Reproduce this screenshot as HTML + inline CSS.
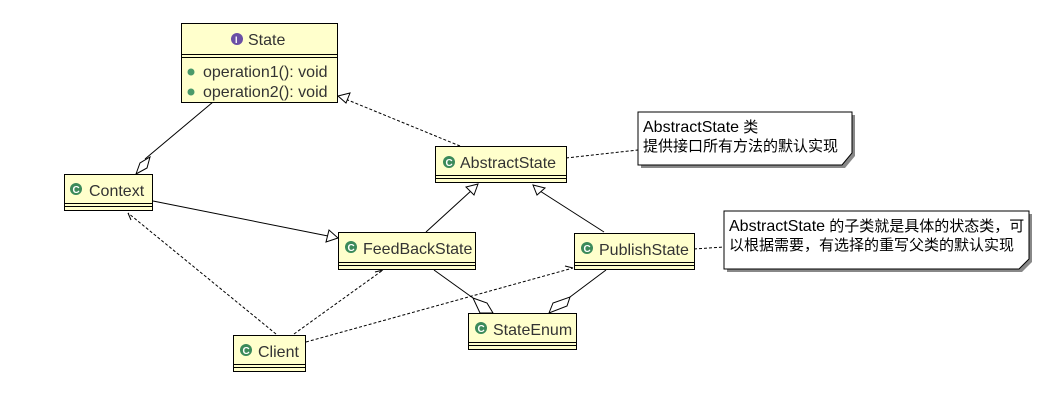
<!DOCTYPE html>
<html><head><meta charset="utf-8"><style>
body{margin:0;background:#fff;width:1039px;height:411px;overflow:hidden}
svg text{font-family:"Liberation Sans","Noto Sans CJK SC",sans-serif;font-size:16px;fill:#333}
svg text.n{font-size:15px;fill:#000}
svg text.n tspan.l{font-size:16px}
</style></head><body>
<svg width="1039" height="411" xmlns="http://www.w3.org/2000/svg">
<defs>
<g id="c"><circle r="6" fill="#3b8a5a"/><text x="-3.5" y="4" style="font-size:10px;font-weight:bold;fill:#fff">C</text></g>
</defs>
<g stroke="#000" fill="none" stroke-width="1">
<line x1="213" y1="102" x2="145" y2="159"/>
<polygon points="136,174 140,163 150,157 147,168" fill="#fff"/>
<line x1="460" y1="146" x2="338" y2="96" stroke-dasharray="3,2"/>
<polygon points="338,96 350,93 346,103" fill="#fff"/>
<line x1="153" y1="201" x2="328" y2="236"/>
<polygon points="338,238 326,242 329,230" fill="#fff"/>
<line x1="426" y1="232" x2="472" y2="190"/>
<polygon points="478,184 474,195 466,187" fill="#fff"/>
<line x1="604" y1="232" x2="540" y2="191"/>
<polygon points="533,185 545,188 537,195" fill="#fff"/>
<line x1="434" y1="270" x2="473" y2="298"/>
<polygon points="493,313 480,313 473,298 487,303" fill="#fff"/>
<line x1="606" y1="270" x2="570" y2="297"/>
<polygon points="549,313 553,303 570,297 567,306" fill="#fff"/>
<line x1="276" y1="334" x2="128" y2="213" stroke-dasharray="3,2"/>
<polyline points="128,213 131,220 M128,213 135,215"/>
<line x1="294" y1="334" x2="383" y2="270" stroke-dasharray="3,2"/>
<polyline points="383,270 375,272 M383,270 379,277"/>
<line x1="306" y1="342" x2="573" y2="268" stroke-dasharray="3,2"/>
<polyline points="573,268 565,266 M573,268 567,273"/>
<line x1="566" y1="158" x2="638" y2="150" stroke-dasharray="3,2"/>
<line x1="694" y1="249" x2="724" y2="247" stroke-dasharray="3,2"/>
</g>
<polygon points="641,115 855,115 855,156 845,168 641,168" fill="#888"/>
<polygon points="638,112 852,112 852,153 842,165 638,165" fill="#fff" stroke="#000"/>
<text class="n" x="643" y="132"><tspan class="l">AbstractState</tspan> 类</text>
<text class="n" x="643" y="151">提供接口所有方法的默认实现</text>
<polygon points="727,214 1032,214 1032,262 1022,272 727,272" fill="#888"/>
<polygon points="724,211 1029,211 1029,259 1019,269 724,269" fill="#fff" stroke="#000"/>
<text class="n" x="729" y="231"><tspan class="l">AbstractState</tspan> 的子类就是具体的状态类，可</text>
<text class="n" x="729" y="250">以根据需要，有选择的重写父类的默认实现</text>
<rect x="181.5" y="23.5" width="156" height="79" fill="#ffffcc" stroke="#000"/>
<line x1="181" y1="54.5" x2="337" y2="54.5" stroke="#000"/>
<line x1="181" y1="57.5" x2="337" y2="57.5" stroke="#000"/>
<circle cx="237" cy="39" r="6" fill="#6a4fa5"/><text x="235" y="43" style="font-size:9px;font-weight:bold;fill:#fff">I</text>
<text x="248" y="45">State</text>
<circle cx="191" cy="72" r="3.5" fill="#4a9a6a"/><text x="203" y="77">operation1(): void</text>
<circle cx="191" cy="92" r="3.5" fill="#4a9a6a"/><text x="203" y="97">operation2(): void</text>
<rect x="435.5" y="146.5" width="131" height="36" fill="#ffffcc" stroke="#000"/>
<line x1="435" y1="175.5" x2="566" y2="175.5" stroke="#000"/><line x1="435" y1="178.5" x2="566" y2="178.5" stroke="#000"/>
<use href="#c" x="449" y="162"/><text x="460" y="168">AbstractState</text>
<rect x="64.5" y="174.5" width="88" height="36" fill="#ffffcc" stroke="#000"/>
<line x1="64" y1="203.5" x2="152" y2="203.5" stroke="#000"/><line x1="64" y1="206.5" x2="152" y2="206.5" stroke="#000"/>
<use href="#c" x="76" y="189"/><text x="89" y="196">Context</text>
<rect x="338.5" y="232.5" width="137" height="37" fill="#ffffcc" stroke="#000"/>
<line x1="338" y1="262.5" x2="475" y2="262.5" stroke="#000"/><line x1="338" y1="265.5" x2="475" y2="265.5" stroke="#000"/>
<use href="#c" x="351" y="247"/><text x="363" y="254">FeedBackState</text>
<rect x="574.5" y="233.5" width="120" height="36" fill="#ffffcc" stroke="#000"/>
<line x1="574" y1="262.5" x2="694" y2="262.5" stroke="#000"/><line x1="574" y1="265.5" x2="694" y2="265.5" stroke="#000"/>
<use href="#c" x="587" y="248"/><text x="599" y="255">PublishState</text>
<rect x="468.5" y="313.5" width="108" height="36" fill="#ffffcc" stroke="#000"/>
<line x1="468" y1="342.5" x2="576" y2="342.5" stroke="#000"/><line x1="468" y1="345.5" x2="576" y2="345.5" stroke="#000"/>
<use href="#c" x="481" y="328"/><text x="493" y="335">StateEnum</text>
<rect x="233.5" y="335.5" width="72" height="36" fill="#ffffcc" stroke="#000"/>
<line x1="233" y1="364.5" x2="305" y2="364.5" stroke="#000"/><line x1="233" y1="367.5" x2="305" y2="367.5" stroke="#000"/>
<use href="#c" x="246" y="350"/><text x="258" y="357">Client</text>
</svg>
</body></html>
